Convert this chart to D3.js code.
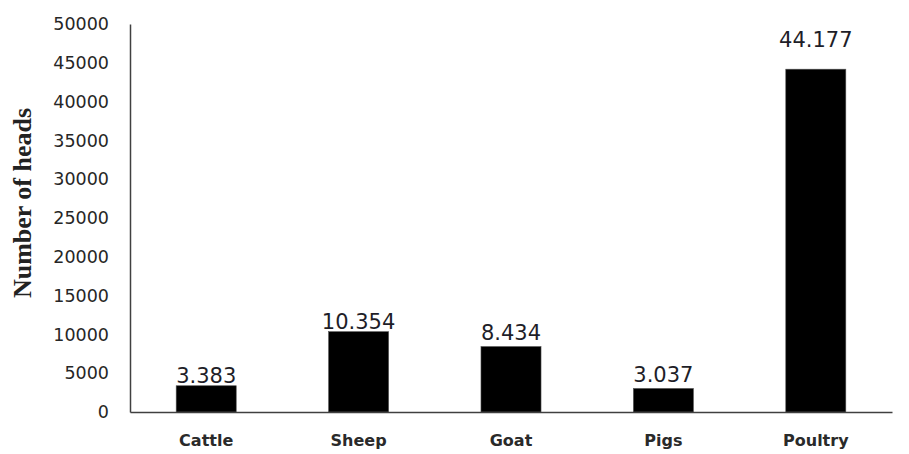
<!DOCTYPE html>
<meta charset="utf-8">
<html>
<head>
<script src="https://d3js.org/d3.v7.min.js"></script>
<style>
  body { margin: 0; background: #fff; }
  svg { display: block; }
</style>
</head>
<body>
<script>
// chart data
var categories = ["Cattle", "Sheep", "Goat", "Pigs", "Poultry"];
var heads = [3383, 10354, 8434, 3037, 44177];
var valueLabels = ["3.383", "10.354", "8.434", "3.037", "44.177"];
var yTicks = [0, 5000, 10000, 15000, 20000, 25000, 30000, 35000, 40000, 45000, 50000];

// extra lift for the value labels, as placed in the original
var labelLift = [3, 3, 7, 6, 22];

var width = 909, height = 454;
var margin = {left: 130, right: 17, top: 24, bottom: 42};

var svg = d3.select("body").append("svg")
  .attr("width", width)
  .attr("height", height);

var x = d3.scaleBand()
  .domain(categories)
  .range([margin.left, width - margin.right])
  .paddingInner(0.606)
  .paddingOuter(0.303);

var y = d3.scaleLinear()
  .domain([0, 50000])
  .range([height - margin.bottom, margin.top]);

// y axis: line plus tick labels, no tick marks
var yAxis = svg.append("g")
  .attr("transform", "translate(" + margin.left + ",0)")
  .call(d3.axisLeft(y).tickValues(yTicks).tickSize(0).tickPadding(21).tickFormat(d3.format("d")));
yAxis.select(".domain").attr("stroke", "#404040").attr("stroke-width", 1.5);
yAxis.selectAll("text")
  .attr("font-family", "DejaVu Sans")
  .attr("font-size", 17.5)
  .attr("fill", "#262626");

// bars
svg.selectAll("rect.bar")
  .data(heads)
  .enter()
  .append("rect")
  .attr("class", "bar")
  .attr("x", function(d, i) { return x(categories[i]); })
  .attr("y", function(d) { return y(d); })
  .attr("width", x.bandwidth())
  .attr("height", function(d) { return y(0) - y(d); })
  .attr("fill", "#000")
  .attr("stroke", "#555")
  .attr("stroke-width", 0.6);

// x axis line and category labels
var xAxis = svg.append("g")
  .attr("transform", "translate(0," + y(0) + ")")
  .call(d3.axisBottom(x).tickSize(0).tickPadding(0).tickSizeOuter(0));
xAxis.select(".domain").attr("stroke", "#404040").attr("stroke-width", 1.5);
xAxis.selectAll("text")
  .attr("dy", 0)
  .attr("y", 34)
  .attr("font-family", "DejaVu Sans")
  .attr("font-weight", "bold")
  .attr("font-size", 16)
  .attr("fill", "#2a2a2a");

// value labels above bars
svg.selectAll("text.value")
  .data(heads)
  .enter()
  .append("text")
  .attr("class", "value")
  .attr("x", function(d, i) { return x(categories[i]) + x.bandwidth() / 2; })
  .attr("y", function(d, i) { return y(d) - labelLift[i]; })
  .attr("text-anchor", "middle")
  .attr("font-family", "DejaVu Sans")
  .attr("font-size", 21)
  .attr("fill", "#1e1e28")
  .text(function(d, i) { return valueLabels[i]; });

// y axis title
svg.append("text")
  .attr("transform", "translate(31," + ((margin.top + height - margin.bottom) / 2 - 15) + ") rotate(-90)")
  .attr("text-anchor", "middle")
  .attr("font-family", "Liberation Serif")
  .attr("font-weight", "bold")
  .attr("font-size", 26)
  .attr("fill", "#222")
  .text("Number of heads");
</script>
</body>
</html>
